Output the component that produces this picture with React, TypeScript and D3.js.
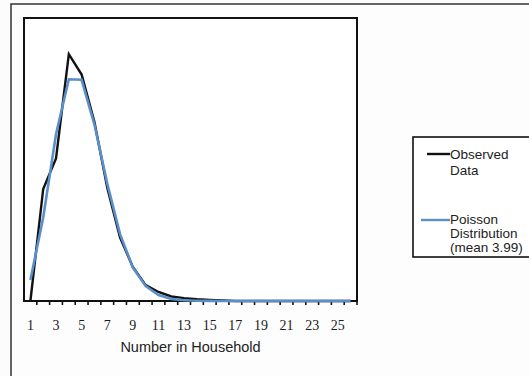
import React from "react";
import * as d3 from "d3";

// Household sizes on the category axis
const householdSizes: number[] = d3.range(1, 27);
// Observed share of households by size
const observedData: number[] = [
  0, 0.099, 0.126, 0.218, 0.2, 0.158, 0.1, 0.056, 0.03, 0.014, 0.008, 0.004,
  0.0025, 0.0015, 0.001, 0.0005, 0, 0, 0, 0, 0, 0, 0, 0, 0, 0,
];
// Poisson probabilities (mean 3.99)
const poissonData: number[] = [
  0.0185, 0.0738, 0.1473, 0.1959, 0.1954, 0.1559, 0.1037, 0.0591, 0.0295,
  0.0131, 0.0052, 0.0019, 0.0006, 0.0002, 0.0001, 0, 0, 0, 0, 0, 0, 0, 0, 0,
  0, 0,
];
const tickLabels: number[] = [1, 3, 5, 7, 9, 11, 13, 15, 17, 19, 21, 23, 25];
const legendObserved: string[] = ["Observed", "Data"];
const legendPoisson: string[] = ["Poisson", "Distribution", "(mean 3.99)"];

const W = 529;
const H = 376;
const plot = { left: 24, right: 357, top: 18, bottom: 301 };

export default function App() {
  const x = d3
    .scaleBand<number>()
    .domain(householdSizes)
    .range([plot.left, plot.right])
    .paddingInner(0)
    .paddingOuter(0);
  const cx = (v: number) => (x(v) as number) + x.bandwidth() / 2;
  const y = d3.scaleLinear().domain([0, 0.25]).range([plot.bottom, plot.top]);

  const line = d3
    .line<number>()
    .x((_, i) => cx(householdSizes[i]))
    .y((d) => y(d));

  const tickPositions = householdSizes.map((v) => (x(v) as number) + x.bandwidth());
  const sans = "'Liberation Sans', Arial, sans-serif";

  return (
    <svg
      width={W}
      height={H}
      style={{ position: "absolute", left: 0, top: 0, display: "block" }}
    >
      <rect x={0} y={0} width={W} height={H} fill="#fcfcfd" />
      {/* outer frame */}
      <rect x={11} y={4} width={W} height={H + 10} fill="#fdfdfe" stroke="#333" strokeWidth={1.5} />
      {/* plot area */}
      <rect
        x={plot.left}
        y={plot.top}
        width={plot.right - plot.left}
        height={plot.bottom - plot.top}
        fill="#ffffff"
        stroke="#111"
        strokeWidth={2}
      />
      {/* ticks between categories */}
      {tickPositions.map((t, i) => (
        <line key={i} x1={t} x2={t} y1={plot.bottom} y2={plot.bottom + 4} stroke="#111" strokeWidth={1.6} />
      ))}
      <line x1={plot.left} x2={plot.right} y1={plot.bottom} y2={plot.bottom} stroke="#111" strokeWidth={2.2} />
      {/* series */}
      <path d={line(observedData) || ""} fill="none" stroke="#111" strokeWidth={2.4} strokeLinejoin="miter" />
      <path d={line(poissonData) || ""} fill="none" stroke="#5a8fcb" strokeWidth={2.6} strokeLinejoin="miter" />
      {/* tick labels */}
      {tickLabels.map((v) => (
        <text
          key={v}
          x={cx(v)}
          y={plot.bottom + 29}
          textAnchor="middle"
          fontFamily="'Liberation Serif', 'DejaVu Serif', serif"
          fontSize={14}
          fill="#1a1a1a"
        >
          {v}
        </text>
      ))}
      <text
        x={(plot.left + plot.right) / 2}
        y={352}
        textAnchor="middle"
        fontFamily={sans}
        fontSize={14.5}
        fill="#222"
      >
        Number in Household
      </text>
      {/* legend */}
      <rect x={413} y={137} width={125} height={120} fill="#fff" stroke="#111" strokeWidth={1.6} />
      <line x1={427} x2={450} y1={154} y2={154} stroke="#111" strokeWidth={2.4} />
      {legendObserved.map((s, i) => (
        <text key={s} x={450} y={159 + i * 15.5} fontFamily={sans} fontSize={13.5} fill="#222">
          {s}
        </text>
      ))}
      <line x1={421} x2={450} y1={220} y2={220} stroke="#5a8fcb" strokeWidth={2.4} />
      {legendPoisson.map((s, i) => (
        <text key={s} x={450} y={224 + i * 14} fontFamily={sans} fontSize={13.5} fill="#222">
          {s}
        </text>
      ))}
    </svg>
  );
}
